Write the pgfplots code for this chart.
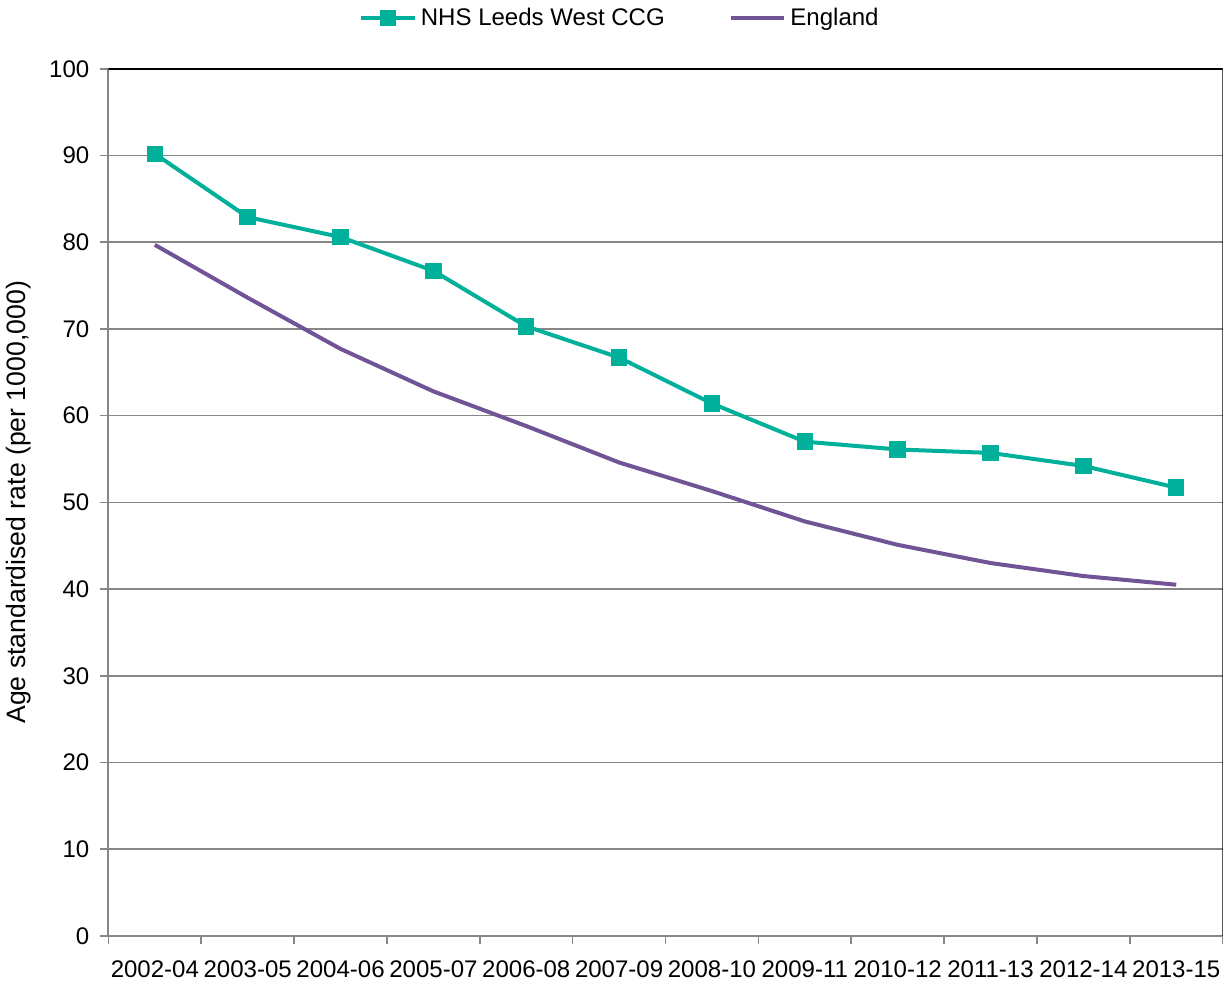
\documentclass[border=0pt]{standalone}
\usepackage{pgfplots}
\pgfplotsset{compat=1.18}
\usepackage{fontspec}
\setmainfont{Liberation Sans}
\definecolor{leeds}{RGB}{0,176,154}
\definecolor{eng}{RGB}{112,84,150}
\definecolor{axgray}{RGB}{134,134,134}

\begin{document}
\begin{tikzpicture}
\begin{axis}[
  width=556.5pt, height=433pt, scale only axis,
  font=\fontsize{12}{14}\selectfont,
  xmin=-0.5, xmax=11.5, ymin=0, ymax=100,
  xtick={0,...,11},
  xticklabels={2002-04,2003-05,2004-06,2005-07,2006-08,2007-09,2008-10,2009-11,2010-12,2011-13,2012-14,2013-15},
  minor xtick={-0.5,0.5,...,11.5},
  ytick={0,10,...,100},
  major x tick style={draw=none},
  tick align=outside,
  major tick length=4pt, minor tick length=4pt,
  every tick/.style={axgray, line width=0.8pt},
  axis x line*=bottom, axis y line*=left,
  axis line style={axgray, line width=1pt, -},
  ymajorgrids, grid style={axgray, line width=0.8pt},
  xticklabel style={yshift=-5pt},
  yticklabel style={xshift=-2pt},
  /pgf/number format/assume math mode=true,
  ylabel={Age standardised rate (per 1000,000)},
  ylabel style={font=\fontsize{13.3}{16}\selectfont, yshift=2pt},
  legend columns=-1,
  legend style={draw=none, fill=none, at={(0.46,1)}, anchor=south, yshift=16pt,
    /tikz/every even column/.append style={column sep=30pt}},
  legend image code/.code={
    \draw[#1, mark repeat=2, mark phase=2] plot coordinates {(0cm,0cm) (0.47cm,0cm) (0.94cm,0cm)};
  },
]
\addplot[leeds, line width=2pt, mark=square*, mark size=3.1pt, mark options={solid}]
  coordinates {(0,90.2) (1,82.9) (2,80.6) (3,76.7) (4,70.3) (5,66.7) (6,61.4) (7,57.0) (8,56.1) (9,55.7) (10,54.2) (11,51.7)};
\addplot[eng, line width=2pt]
  coordinates {(0,79.7) (1,73.6) (2,67.7) (3,62.8) (4,58.8) (5,54.6) (6,51.3) (7,47.8) (8,45.1) (9,43.0) (10,41.5) (11,40.5)};
\legend{NHS Leeds West CCG, England}
\draw[black, line width=1pt] (rel axis cs:0,1) -- (rel axis cs:1,1) -- (rel axis cs:1,0);
\end{axis}
\end{tikzpicture}
\end{document}
